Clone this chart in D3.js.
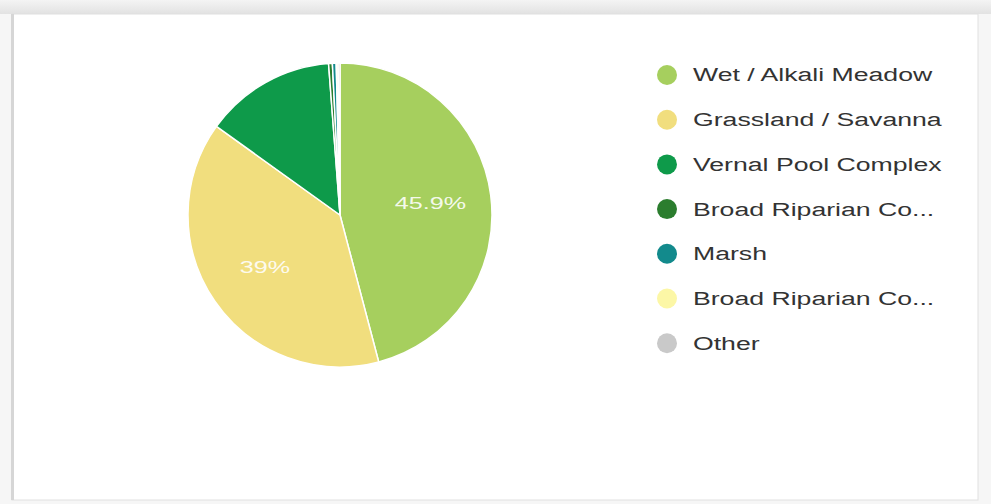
<!DOCTYPE html>
<html>
<head>
<meta charset="utf-8">
<script src="https://cdn.jsdelivr.net/npm/d3@7"></script>
<style>
  html, body { margin: 0; padding: 0; background: #f6f6f6; }
  svg { display: block; }
  text { font-family: "Liberation Sans", Arial, sans-serif; }
</style>
</head>
<body>
<svg id="chart" width="991" height="504"></svg>
<script>
// Habitat share by type (percent of mapped area)
const categories = [
  "Wet / Alkali Meadow",
  "Grassland / Savanna",
  "Vernal Pool Complex",
  "Broad Riparian Co...",
  "Marsh",
  "Broad Riparian Co...",
  "Other"
];
const shares = [45.9, 39.0, 13.9, 0.4, 0.4, 0.2, 0.2];
const sliceColors = ["#a6cf5e", "#f1de7e", "#0e9a4a", "#2b7d2e", "#128a8c", "#fcf7a6", "#c9c9c9"];
const labelText = ["45.9%", "39%", "", "", "", "", ""];

const svg = d3.select("#chart");
const W = 991, H = 504;

// Card panel and the header strip above it
const header = svg.append("defs").append("linearGradient")
  .attr("id", "hdr").attr("x1", 0).attr("y1", 0).attr("x2", 0).attr("y2", 1);
header.append("stop").attr("offset", "0%").attr("stop-color", "#f4f4f4");
header.append("stop").attr("offset", "100%").attr("stop-color", "#e2e2e2");
svg.append("rect").attr("x", 0).attr("y", 0).attr("width", W).attr("height", 14).attr("fill", "url(#hdr)");
svg.append("rect").attr("x", 12).attr("y", 14).attr("width", 966).attr("height", 486)
  .attr("fill", "#ffffff").attr("stroke", "#e0e0e0").attr("stroke-width", 1);
svg.append("line").attr("x1", 12.5).attr("x2", 12.5).attr("y1", 14).attr("y2", 500)
  .attr("stroke", "#d6d6d6").attr("stroke-width", 3);

// Pie
const cx = 340, cy = 215, R = 152;
const data = categories.map((c, i) => ({ name: c, value: shares[i], color: sliceColors[i], label: labelText[i] }));
const pie = d3.pie().value(d => d.value).sort(null).startAngle(0).endAngle(2 * Math.PI);
const arc = d3.arc().innerRadius(0).outerRadius(R);
const labelArc = d3.arc().innerRadius(R * 0.6).outerRadius(R * 0.6);
const arcs = pie(data);

const g = svg.append("g").attr("transform", `translate(${cx},${cy})`);
g.selectAll("path.slice").data(arcs).enter().append("path")
  .attr("class", "slice")
  .attr("d", arc)
  .attr("fill", d => d.data.color)
  .attr("stroke", "#ffffff")
  .attr("stroke-width", 1.5);

g.selectAll("text.pct").data(arcs.filter(d => d.data.label)).enter().append("text")
  .attr("class", "pct")
  .attr("transform", d => {
    const [x, y] = labelArc.centroid(d);
    return `translate(${x},${y}) scale(1.48,1)`;
  })
  .attr("text-anchor", "middle")
  .attr("dy", "0.36em")
  .attr("font-size", 17)
  .attr("fill", "#ffffff")
  .attr("fill-opacity", 0.9)
  .text(d => d.data.label);

// Legend
const lx = 667, ly0 = 75, lstep = 44.7;
const legend = svg.append("g");
const rows = legend.selectAll("g.row").data(data).enter().append("g")
  .attr("class", "row")
  .attr("transform", (d, i) => `translate(${lx},${ly0 + i * lstep})`);
rows.append("circle").attr("r", 10).attr("fill", d => d.color);
rows.append("text")
  .attr("transform", "translate(26,0) scale(1.48,1)")
  .attr("dy", "0.36em")
  .attr("font-size", 18)
  .attr("fill", "#333333")
  .text(d => d.name);
</script>
</body>
</html>
